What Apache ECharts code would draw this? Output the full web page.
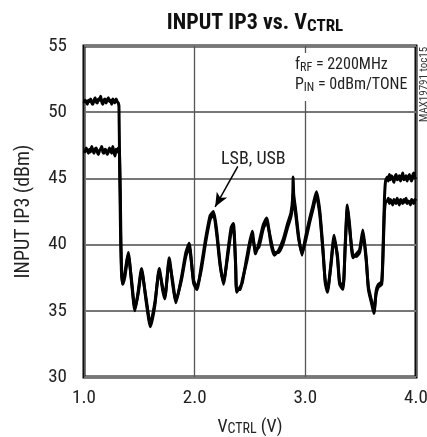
<!DOCTYPE html>
<html>
<head>
<meta charset="utf-8">
<script src="https://cdn.jsdelivr.net/npm/echarts@6/dist/echarts.min.js"></script>
<style>
html,body{margin:0;padding:0;background:#fff;}
#c{width:427px;height:437px;}
</style>
</head>
<body>
<div id="c"></div>
<script>
// ---- data ----
const xTicks = [1.0, 2.0, 3.0, 4.0];
const yTicks = [30, 35, 40, 45, 50, 55];

// upper trace (LSB/USB pair, upper branch)
const upperX = [1.00,1.01,1.02,1.03,1.04,1.05,1.06,1.07,1.08,1.09,1.10,1.11,1.12,1.13,1.14,1.15,1.16,1.17,1.18,1.19,1.20,1.21,1.22,1.23,1.24,1.25,1.26,1.27,1.28,1.29,1.30,1.31,1.316,1.322,1.33,1.338,1.345,
1.35,1.37,1.40,1.43,1.46,1.49,1.52,1.56,1.60,1.64,1.68,1.71,1.73,1.77,1.80,1.83,1.88,1.92,1.95,1.99,2.02,2.06,2.10,2.14,2.17,2.20,2.23,2.26,2.30,2.33,2.35,2.37,2.38,2.41,2.43,2.47,2.52,2.55,2.58,2.62,2.65,2.69,2.72,2.76,2.80,2.84,2.87,2.885,2.89,2.895,2.91,2.94,2.97,3.00,3.04,3.07,3.10,3.13,3.16,3.18,3.20,3.23,3.26,3.29,3.31,3.34,3.36,3.38,3.40,3.43,3.46,3.49,3.52,3.55,3.57,3.60,3.62,3.64,3.66,3.69,3.705,3.715,3.725,
3.74,3.75,3.76,3.77,3.78,3.79,3.80,3.81,3.82,3.83,3.84,3.85,3.86,3.87,3.88,3.89,3.90,3.91,3.92,3.93,3.94,3.95,3.96,3.97,3.98,3.99,4.00];
const upperY = [50.7,50.9,50.8,50.6,50.9,50.8,51.0,50.7,50.6,50.9,51.1,50.8,50.7,51.0,50.9,51.2,50.8,50.6,50.9,51.0,50.7,50.9,51.1,50.8,50.9,50.6,51.0,50.8,50.7,51.0,50.8,50.7,50.4,46.0,41.0,38.0,37.1,
37.2,37.9,39.4,37.1,35.0,36.5,38.2,35.8,33.8,35.4,38.2,36.6,35.9,39.0,37.1,35.6,37.5,39.4,40.1,37.1,36.6,38.4,40.5,42.2,42.5,41.0,38.6,37.0,39.5,41.3,41.6,38.6,36.4,36.8,37.1,39.0,41.0,39.3,40.1,41.5,42.0,40.0,39.2,39.6,40.4,41.6,42.4,43.5,45.1,43.8,42.8,40.6,39.2,40.5,42.0,43.0,44.0,42.6,39.6,37.1,36.4,38.5,40.7,39.0,37.0,36.6,40.0,43.0,41.5,39.0,39.3,39.6,41.1,39.0,36.6,35.5,34.8,36.5,37.0,37.2,40.5,43.5,44.8,
45.1,44.8,45.3,44.9,45.2,45.0,44.7,45.1,45.3,44.9,45.0,45.2,44.8,45.1,45.4,44.9,45.0,45.2,44.8,45.1,45.3,45.0,44.8,45.2,45.4,45.0,45.1];

// lower trace (LSB/USB pair, lower branch)
const lowerX = [1.00,1.01,1.02,1.03,1.04,1.05,1.06,1.07,1.08,1.09,1.10,1.11,1.12,1.13,1.14,1.15,1.16,1.17,1.18,1.19,1.20,1.21,1.22,1.23,1.24,1.25,1.26,1.27,1.28,1.29,1.30,1.31,1.32,1.328,1.334,1.34,1.347,
1.35,1.37,1.40,1.43,1.46,1.49,1.52,1.56,1.60,1.64,1.68,1.71,1.73,1.77,1.80,1.83,1.88,1.92,1.95,1.99,2.02,2.06,2.10,2.14,2.17,2.20,2.23,2.26,2.30,2.33,2.35,2.37,2.38,2.41,2.43,2.47,2.52,2.55,2.58,2.62,2.65,2.69,2.72,2.76,2.80,2.84,2.87,2.885,2.89,2.895,2.91,2.94,2.97,3.00,3.04,3.07,3.10,3.13,3.16,3.18,3.20,3.23,3.26,3.29,3.31,3.34,3.36,3.38,3.40,3.43,3.46,3.49,3.52,3.55,3.57,3.60,3.62,3.64,3.66,3.69,3.705,3.715,3.725,
3.74,3.75,3.76,3.77,3.78,3.79,3.80,3.81,3.82,3.83,3.84,3.85,3.86,3.87,3.88,3.89,3.90,3.91,3.92,3.93,3.94,3.95,3.96,3.97,3.98,3.99,4.00];
const lowerY = [47.1,47.0,47.3,47.1,46.9,47.2,47.0,47.4,47.1,46.9,47.2,47.3,47.0,46.8,47.1,47.2,47.4,47.0,46.9,47.2,47.1,46.8,47.0,47.3,47.1,46.9,47.4,47.0,46.7,47.2,47.0,47.3,47.0,44.0,40.0,38.0,37.3,
37.0,37.6,39.2,37.3,35.2,36.3,38.0,36.0,34.0,35.6,38.0,36.8,36.1,38.7,37.3,35.8,37.3,39.1,39.8,37.3,36.8,38.1,40.2,41.9,42.3,40.7,38.4,37.2,39.2,41.0,41.3,38.4,36.6,36.6,37.3,38.7,40.6,39.6,39.8,41.2,41.7,40.3,39.4,39.4,40.1,41.3,42.1,43.0,43.9,43.3,42.5,40.4,39.4,40.2,41.7,42.7,43.7,42.3,39.4,37.3,36.6,38.3,40.4,39.2,37.2,36.8,39.7,42.7,41.2,39.2,39.1,39.4,40.8,38.8,36.8,35.7,35.0,36.3,36.8,37.0,40.0,42.5,43.2,
43.3,43.5,43.1,43.4,43.2,43.0,43.4,43.3,43.1,43.5,43.2,43.0,43.4,43.3,43.1,43.4,43.2,43.5,43.1,43.3,43.2,43.0,43.4,43.3,43.1,43.4,43.3];

// annotation (data coordinates)
const arrowFrom = [2.39, 45.9];
const arrowTo = [2.185, 42.85];
const labelAt = [2.53, 46.4];
const labelText = 'LSB, USB';

const FONT = "'Liberation Sans Narrow', 'Roboto Condensed', 'Liberation Sans', sans-serif";

const chart = echarts.init(document.getElementById('c'), null, {renderer: 'canvas'});
const zip = (xs, ys) => xs.map((x, i) => [x, ys[i]]);

chart.setOption({
  backgroundColor: '#fff',
  animation: false,
  title: {
    text: '{a|INPUT IP3 vs. V}{b|CTRL}',
    left: 250,
    textAlign: 'center',
    top: 7,
    textStyle: {
      rich: {
        a: {fontFamily: FONT, fontWeight: 'bold', fontSize: 22, color: '#111'},
        b: {fontFamily: FONT, fontWeight: 'bold', fontSize: 17, color: '#111', padding: [6, 0, 0, 0]}
      }
    }
  },
  grid: {left: 84, right: 11, top: 46, bottom: 60, show: true, borderColor: '#000', borderWidth: 3,
         containLabel: false, outerBoundsMode: 'none'},
  xAxis: {
    type: 'value', min: xTicks[0], max: xTicks[xTicks.length - 1], interval: 1,
    axisLine: {show: false}, axisTick: {show: false},
    splitLine: {show: true, lineStyle: {color: '#555', width: 1.3}},
    axisLabel: {margin: 12, fontFamily: FONT, fontSize: 19, color: '#222', formatter: v => v.toFixed(1)},
    name: '{a|V}{b|CTRL}{a| (V)}', nameLocation: 'middle', nameGap: 41,
    nameTextStyle: {rich: {
      a: {fontFamily: FONT, fontSize: 18, color: '#222'},
      b: {fontFamily: FONT, fontSize: 14, color: '#222', padding: [4, 0, 0, 0]}
    }}
  },
  yAxis: {
    type: 'value', min: yTicks[0], max: yTicks[yTicks.length - 1], interval: 5,
    axisLine: {show: false}, axisTick: {show: false},
    splitLine: {show: true, lineStyle: {color: '#777', width: 1.8}},
    axisLabel: {margin: 17, fontFamily: FONT, fontSize: 19, color: '#222'},
    name: 'INPUT IP3 (dBm)', nameLocation: 'middle', nameGap: 50,
    nameTextStyle: {fontFamily: FONT, fontSize: 20, color: '#222'}
  },
  graphic: [
    {
      type: 'rect', left: 290, top: 53, shape: {width: 122, height: 48}, style: {fill: '#fff'}, z: 5
    },
    {
      type: 'text', left: 295, top: 56, z: 6,
      style: {
        text: '{a|f}{s|RF}{a| = 2200MHz}\n{a|P}{s|IN}{a| = 0dBm/TONE}',
        rich: {
          a: {fontFamily: FONT, fontSize: 16, fill: '#222', lineHeight: 20},
          s: {fontFamily: FONT, fontSize: 12, fill: '#222', padding: [6, 0, 0, 0], lineHeight: 20}
        }
      }
    },
    {
      type: 'text', x: 419, y: 122, rotation: Math.PI / 2, z: 6,
      style: {text: 'MAX19791 toc15', fontFamily: FONT, fontSize: 11, fill: '#333'}
    }
  ],
  series: [
    {
      type: 'line', data: zip(upperX, upperY), showSymbol: false, smooth: 0.2,
      lineStyle: {color: '#000', width: 3}, z: 3,
      markLine: {
        silent: true, symbol: ['none', 'arrow'], symbolSize: [9, 14],
        lineStyle: {color: '#000', width: 1.5, type: 'solid'},
        label: {show: false},
        data: [[{coord: arrowFrom}, {coord: arrowTo}]]
      },
      markPoint: {
        silent: true, symbol: 'circle', symbolSize: 0,
        label: {show: true, formatter: labelText, fontFamily: FONT, fontSize: 18, color: '#222', position: 'inside'},
        data: [{coord: labelAt}]
      }
    },
    {
      type: 'line', data: zip(lowerX, lowerY), showSymbol: false, smooth: 0.2,
      lineStyle: {color: '#000', width: 3}, z: 3
    }
  ]
});
</script>
</body>
</html>
